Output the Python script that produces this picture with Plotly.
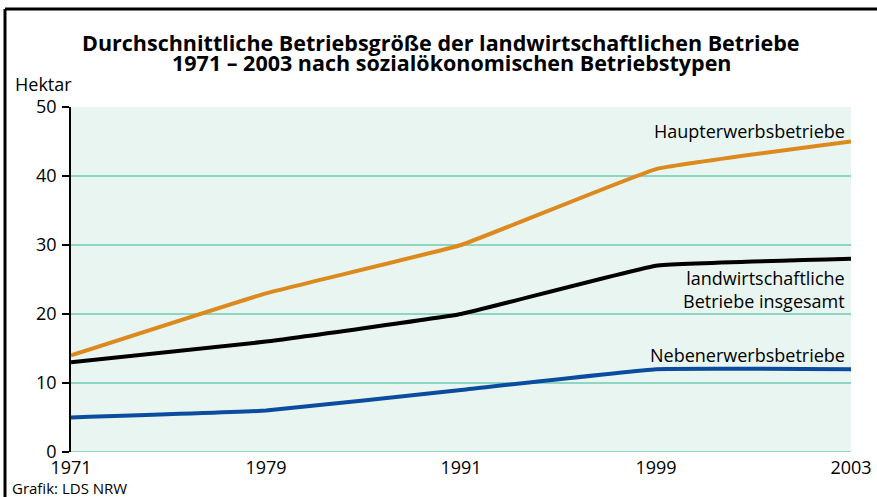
import plotly.graph_objects as go

years = ["1971", "1979", "1991", "1999", "2003"]
haupterwerb = [14, 23, 30, 41, 45]
insgesamt = [13, 16, 20, 27, 28]
nebenerwerb = [5, 6, 9, 12, 12]
y_ticks = [0, 10, 20, 30, 40, 50]

W, H = 877, 497
L, R, T, B = 71, 26, 107, 45
pw, ph = W - L - R, H - T - B

def px(x):
    return (x - L) / pw

def py(y):
    return (H - B - y) / ph

font = "Open Sans, Noto Sans, sans-serif"

fig = go.Figure()
series = [
    (haupterwerb, "#DC8A1E", "Haupterwerbsbetriebe"),
    (insgesamt, "#000000", "landwirtschaftliche Betriebe insgesamt"),
    (nebenerwerb, "#0B4C9E", "Nebenerwerbsbetriebe"),
]
for vals, col, name in series:
    fig.add_trace(go.Scatter(
        x=years, y=vals, mode="lines", name=name,
        line=dict(color=col, width=4, shape="spline", smoothing=0.25),
        showlegend=False, hoverinfo="x+y",
    ))

fig.update_layout(
    width=W, height=H,
    margin=dict(l=L, r=R, t=T, b=B, pad=0, autoexpand=False),
    paper_bgcolor="white",
    plot_bgcolor="#E9F5F1",
    font=dict(family=font, size=18, color="black"),
    xaxis=dict(
        type="category", range=[0, 4], showgrid=False, zeroline=False,
        showline=False, ticks="", tickfont=dict(size=18), ticklabelstandoff=3,
        automargin=False,
    ),
    yaxis=dict(
        range=[0, 50], tickvals=y_ticks, showgrid=True, gridcolor="#8ED5C2",
        gridwidth=1.5, zeroline=False, showline=True, linecolor="black",
        linewidth=1.5, ticks="outside", ticklen=7, tickcolor="black",
        tickwidth=1.5, tickfont=dict(size=18), ticklabelstandoff=2,
        automargin=False,
    ),
    shapes=[
        dict(type="line", xref="paper", yref="paper", x0=px(5), x1=px(5),
             y0=py(9), y1=py(600), line=dict(color="black", width=3)),
        dict(type="line", xref="paper", yref="paper", x0=px(5), x1=px(1000),
             y0=py(9), y1=py(9), line=dict(color="black", width=3)),
        dict(type="line", xref="paper", yref="y", x0=0, x1=1, y0=0, y1=0,
             line=dict(color="#8ED5C2", width=2), layer="above"),
    ],
    annotations=[
        dict(text="<b>Durchschnittliche Betriebsgröße der landwirtschaftlichen Betriebe</b>",
             xref="paper", yref="paper", x=px(440), y=py(42), xanchor="center",
             yanchor="middle", showarrow=False, font=dict(size=21.5)),
        dict(text="<b>1971 – 2003 nach sozialökonomischen Betriebstypen</b>",
             xref="paper", yref="paper", x=px(452), y=py(62), xanchor="center",
             yanchor="middle", showarrow=False, font=dict(size=21.5)),
        dict(text="Hektar", xref="paper", yref="paper", x=px(13), y=py(84),
             xanchor="left", yanchor="middle", showarrow=False, font=dict(size=18)),
        dict(text="Grafik: LDS NRW", xref="paper", yref="paper", x=px(10), y=py(488),
             xanchor="left", yanchor="middle", showarrow=False, font=dict(size=15)),
        dict(text="Haupterwerbsbetriebe", xref="paper", yref="paper", x=px(847), y=py(131),
             xanchor="right", yanchor="middle", showarrow=False, font=dict(size=18)),
        dict(text="landwirtschaftliche<br>Betriebe insgesamt", xref="paper", yref="paper",
             x=px(847), y=py(289), xanchor="right", yanchor="middle", align="right",
             showarrow=False, font=dict(size=18)),
        dict(text="Nebenerwerbsbetriebe", xref="paper", yref="paper", x=px(847), y=py(355),
             xanchor="right", yanchor="middle", showarrow=False, font=dict(size=18)),
    ],
)

fig.write_html("out.html", config={"displayModeBar": False},
               post_script="document.body.style.margin='0px';")
